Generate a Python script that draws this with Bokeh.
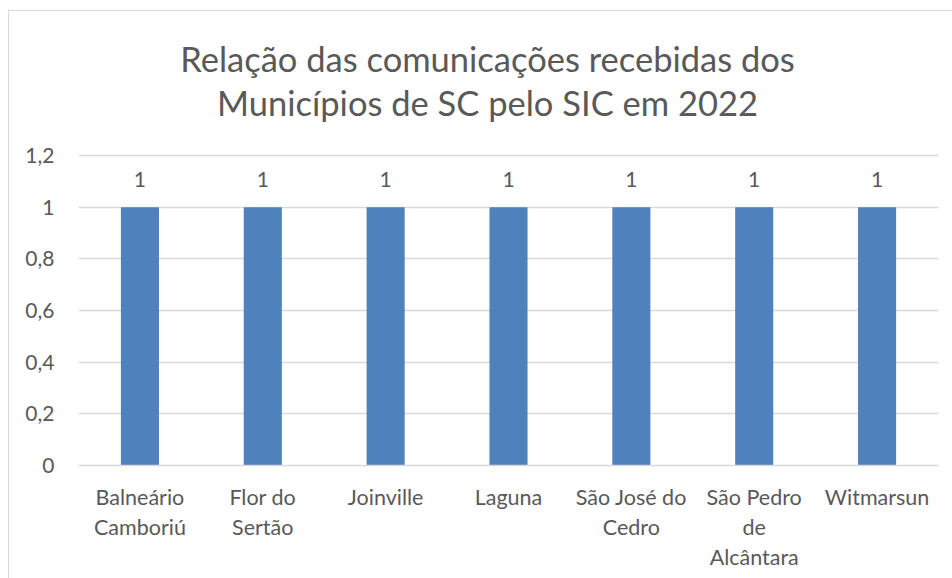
from bokeh.plotting import figure
from bokeh.models import (ColumnDataSource, FactorRange, Range1d, FixedTicker,
                          CustomJSTickFormatter, LabelSet, Label, InlineStyleSheet)
from bokeh.core.properties import value
from bokeh.embed import file_html
from bokeh.resources import INLINE

# ---- data ----
municipios = ["Balneário\nCamboriú", "Flor do\nSertão", "Joinville", "Laguna",
              "São José do\nCedro", "São Pedro\nde\nAlcântara", "Witmarsun"]
comunicacoes = [1, 1, 1, 1, 1, 1, 1]
rotulos = ["1", "1", "1", "1", "1", "1", "1"]
y_ticks = [0, 0.2, 0.4, 0.6, 0.8, 1.0, 1.2]
titulo_l1 = "Relação das comunicações recebidas dos"
titulo_l2 = "Municípios de SC pelo SIC em 2022"

FONT = "Lato"
TXT = "#595959"
GRID = "#D9D9D9"
BAR = "#4F81BD"

# ---- layout geometry (pixels) ----
W, H = 952, 578
LEFT, RIGHT, BOTTOM, TOP = 78, 14, 113, 12
AXIS_TOP_PX = 155                      # pixel row of the highest tick (1,2)
frame_h = H - BOTTOM - TOP
px_per_unit = (H - BOTTOM - AXIS_TOP_PX) / max(y_ticks)
y_end = frame_h / px_per_unit          # frame extends up to hold the title

def y_at(row):                          # canvas pixel row -> data y
    return (H - BOTTOM - row) / px_per_unit

def x_at(col):                          # canvas pixel column -> categorical x
    return (col - LEFT) / (W - LEFT - RIGHT) * len(municipios)

src = ColumnDataSource(dict(x=municipios, y=comunicacoes, lab=rotulos))

p = figure(width=W, height=H, output_backend="svg", toolbar_location=None,
           x_range=FactorRange(*municipios, range_padding=0),
           y_range=Range1d(0, y_end),
           min_border_left=LEFT, min_border_right=RIGHT, min_border_bottom=BOTTOM,
           min_border_top=TOP)
p.outline_line_color = None
p.background_fill_color = "white"
p.border_fill_color = "white"

p.vbar(x="x", top="y", width=0.31, source=src, fill_color=BAR, line_color=None)

labels = LabelSet(x="x", y="y", text="lab", source=src, y_offset=20,
                  text_align="center", text_baseline="bottom",
                  text_font=value(FONT), text_font_size="21px", text_color=TXT)
p.add_layout(labels)

# chart title: two centred lines
for txt, row in ((titulo_l1, 58), (titulo_l2, 102)):
    p.add_layout(Label(x=x_at(487), y=y_at(row), text=txt,
                       text_align="center", text_baseline="middle",
                       text_font=FONT, text_font_size="34.5px", text_color=TXT))

# y axis
p.yaxis.ticker = FixedTicker(ticks=y_ticks)
p.yaxis.formatter = CustomJSTickFormatter(
    code="var s = tick.toFixed(1).replace('.', ','); return s.endsWith(',0') ? s.slice(0, -2) : s;")
p.yaxis.axis_line_color = None
p.yaxis.major_tick_line_color = None
p.yaxis.minor_tick_line_color = None
p.yaxis.major_tick_out = 0
p.yaxis.major_label_standoff = 24
p.yaxis.major_label_text_font = FONT
p.yaxis.major_label_text_font_size = "21px"
p.yaxis.major_label_text_color = TXT

# x axis
p.xaxis.axis_line_color = GRID
p.xaxis.axis_line_width = 1.5
p.xaxis.major_tick_line_color = None
p.xaxis.major_tick_out = 0
p.xaxis.major_label_standoff = 18
p.xaxis.major_label_text_font = FONT
p.xaxis.major_label_text_font_size = "21.5px"
p.xaxis.major_label_text_color = TXT
p.xaxis.major_label_text_line_height = 1.17

p.xgrid.grid_line_color = None
p.ygrid.grid_line_color = GRID
p.ygrid.grid_line_width = 1.5

# chart border (left and top edges of the chart area)
p.stylesheets = [InlineStyleSheet(css="""
:host::after {
  content: ""; position: absolute; left: 8px; top: 10px; right: 0; bottom: 0;
  border-left: 1.5px solid #D9D9D9; border-top: 1.5px solid #D9D9D9;
  pointer-events: none;
}
""")]

open("out.html", "w").write(file_html(p, INLINE))
